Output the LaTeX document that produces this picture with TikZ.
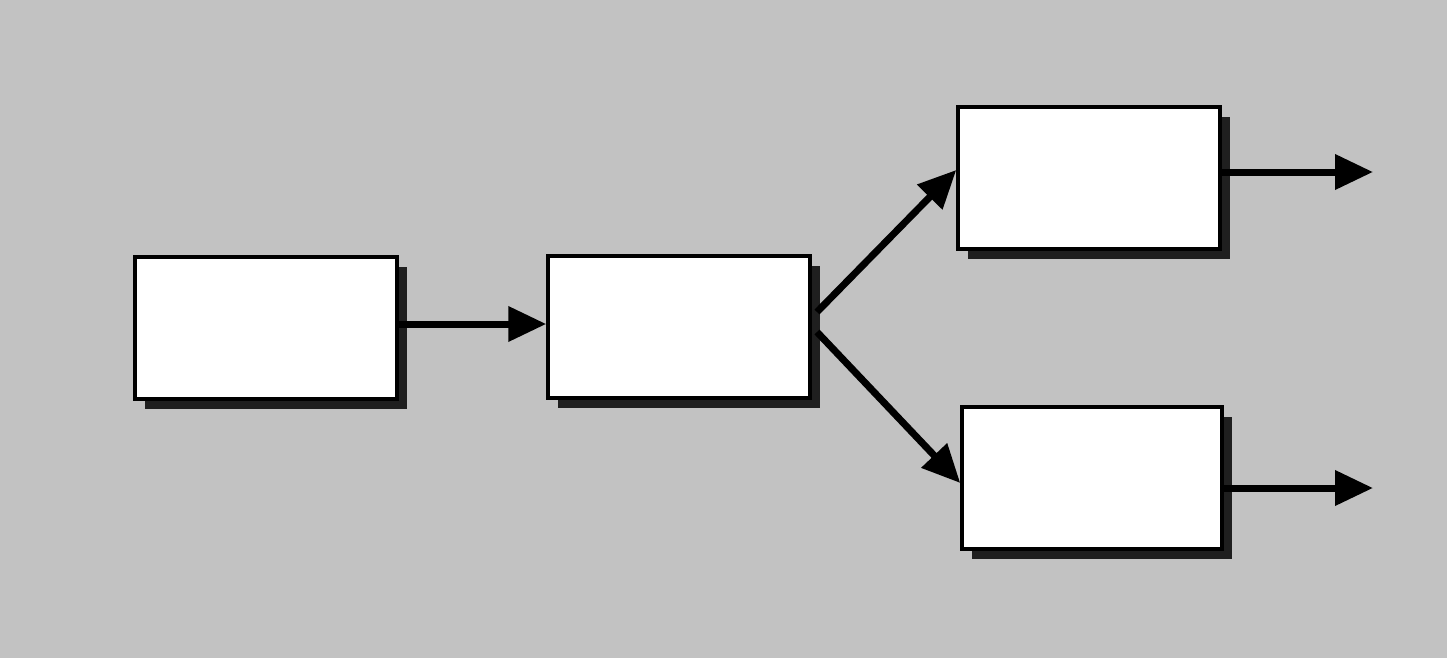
\documentclass[tikz,border=0pt]{standalone}
\usetikzlibrary{arrows.meta,shadows}
\begin{document}
\begin{tikzpicture}[x=1pt,y=-1pt,
  blockbox/.style={draw=black,fill=white,line width=3.5pt,inner sep=0pt,
    minimum width=262pt,minimum height=142pt,
    drop shadow={shadow xshift=10pt,shadow yshift=-10pt,fill=black!88,opacity=1}},
  flow/.style={line width=7pt,-{Triangle[length=38pt,width=34pt]}}]
\fill[black!24] (0,0) rectangle (1447,658);
\useasboundingbox (0,0) rectangle (1447,658);
\node[blockbox] (A) at (266,328) {};
\node[blockbox] (B) at (679,327) {};
\node[blockbox] (C) at (1089,178) {};
\node[blockbox,minimum width=260pt] (D) at (1092,478) {};
\coordinate (bu) at (817,312);
\coordinate (bl) at (817,332);
\coordinate (co) at (1373,172);
\coordinate (do) at (1373,488);
\draw[flow] (A.east |- 0,324) -- (B.west |- 0,324);
\draw[flow] (bu) -- (C.west |- 0,170);
\draw[flow] (bl) -- (D.west |- 0,483);
\draw[flow] (C.east |- co) -- (co);
\draw[flow] (D.east |- do) -- (do);
\end{tikzpicture}
\end{document}
